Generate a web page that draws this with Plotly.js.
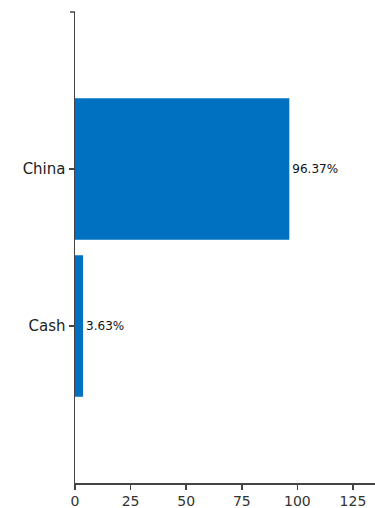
<!DOCTYPE html>
<html>
<head>
<meta charset="utf-8">
<script src="https://cdn.plot.ly/plotly-3.0.1.min.js"></script>
<style>html,body{margin:0;padding:0;background:#fff;}#chart{width:375px;height:508px;}</style>
</head>
<body>
<div id="chart"></div>
<script>
const categories = ["Cash", "China"];
const values = [3.63, 96.37];
const xTicks = [0, 25, 50, 75, 100, 125];

const trace = {
  type: 'bar',
  orientation: 'h',
  y: categories,
  x: values,
  width: 0.9,
  marker: {color: '#0070C0'},
  texttemplate: '%{x:.2f}%',
  textposition: 'outside',
  cliponaxis: false,
  textfont: {family: 'DejaVu Sans, sans-serif', size: 12, color: '#111'},
  hoverinfo: 'none'
};

const axisColor = '#444';
const layout = {
  width: 375, height: 508,
  margin: {l: 75, r: 0, t: 12, b: 25},
  paper_bgcolor: '#fff', plot_bgcolor: '#fff',
  showlegend: false,
  font: {family: 'DejaVu Sans, sans-serif', size: 13, color: '#333'},
  xaxis: {
    range: [0, 134.9],
    tickvals: xTicks,
    ticktext: xTicks.map(String),
    showgrid: false, zeroline: false,
    showline: true, linecolor: axisColor, linewidth: 1.5,
    ticks: 'outside', ticklen: 5, tickcolor: axisColor, tickwidth: 1.5,
    tickfont: {size: 14, color: '#333'}
  },
  yaxis: {
    type: 'category',
    range: [-1, 2],
    showgrid: false, zeroline: false,
    showline: true, linecolor: axisColor, linewidth: 1.5,
    ticks: 'outside', ticklen: 5, tickcolor: axisColor, tickwidth: 1.5,
    tickfont: {size: 15, color: '#222'}
  },
  shapes: [
    {type: 'line', xref: 'paper', yref: 'paper', x0: -5/300, x1: 0, y0: 1, y1: 1,
     line: {color: axisColor, width: 1.5}}
  ]
};

Plotly.newPlot('chart', [trace], layout, {displayModeBar: false, staticPlot: true});
</script>
</body>
</html>
